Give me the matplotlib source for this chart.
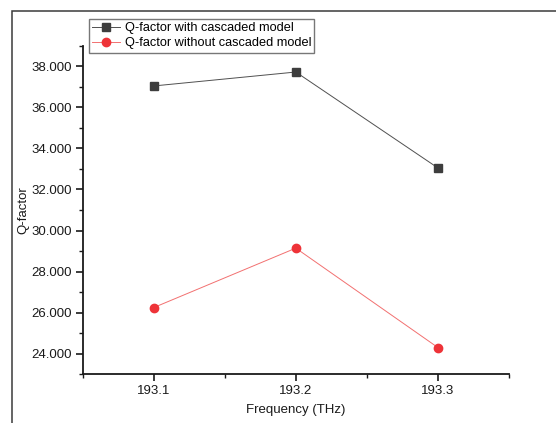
import matplotlib
matplotlib.use("Agg")
import matplotlib.pyplot as plt
from matplotlib.patches import Rectangle
from matplotlib.ticker import MultipleLocator, FormatStrFormatter

plt.rcParams['font.family'] = ['Liberation Sans', 'DejaVu Sans']

freq = [193.1, 193.2, 193.3]
q_cascaded = [37.05, 37.73, 33.05]
q_no_cascade = [26.24, 29.14, 24.29]

fig = plt.figure(figsize=(5.56, 4.23), dpi=100)
ax = fig.add_axes([0.1486, 0.1158, 0.7669, 0.7755])

# outer frame (left and top edges visible)
fig.add_artist(Rectangle((12 / 556, -0.1), 1.2, 1 - 11 / 423 + 0.1,
                         transform=fig.transFigure, fill=False,
                         edgecolor='#3a3a3a', linewidth=1.1))

ax.plot(freq, q_cascaded, color='#505050', linewidth=0.7, marker='s',
        markersize=5.5, markerfacecolor='#3d3d3d', markeredgecolor='#3d3d3d',
        label='Q-factor with cascaded model')
ax.plot(freq, q_no_cascade, color='#f27070', linewidth=0.7, marker='o',
        markersize=6, markerfacecolor='#ee3338', markeredgecolor='#ee3338',
        label='Q-factor without cascaded model')

ax.set_xlim(193.05, 193.35)
ax.set_ylim(23, 39)
ax.xaxis.set_major_locator(MultipleLocator(0.1))
ax.xaxis.set_minor_locator(MultipleLocator(0.05))
ax.yaxis.set_major_locator(MultipleLocator(2))
ax.yaxis.set_minor_locator(MultipleLocator(1))
ax.yaxis.set_major_formatter(FormatStrFormatter('%.3f'))
ax.xaxis.set_major_formatter(FormatStrFormatter('%.1f'))

for s in ['top', 'right']:
    ax.spines[s].set_visible(False)
for s in ['left', 'bottom']:
    ax.spines[s].set_linewidth(1.3)
    ax.spines[s].set_color('#1a1a1a')

ax.tick_params(axis='both', which='major', direction='out', length=5,
               width=1.2, labelsize=9.5, colors='#1a1a1a', pad=3)
ax.tick_params(axis='both', which='minor', direction='out', length=3,
               width=1.0, colors='#1a1a1a')

ax.set_xlabel('Frequency (THz)', fontsize=9.5, color='#1a1a1a', labelpad=5)
ax.set_ylabel('Q-factor', fontsize=9.5, color='#1a1a1a', labelpad=1)

leg = ax.legend(loc='upper left', bbox_to_anchor=(89 / 556, 1 - 19 / 423),
                bbox_transform=fig.transFigure, fontsize=9.2, frameon=True,
                fancybox=False, borderpad=0.25, handlelength=2.2,
                handletextpad=0.35, labelspacing=0.25, borderaxespad=0)
leg.get_frame().set_edgecolor('#555555')
leg.get_frame().set_linewidth(1.0)

fig.savefig('out.png', dpi=100)
